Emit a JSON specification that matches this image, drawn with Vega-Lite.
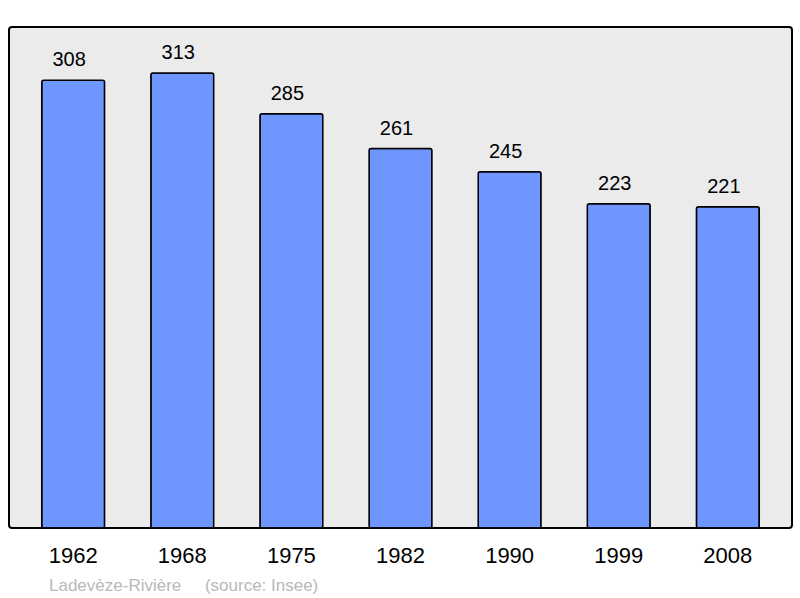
{
  "$schema": "https://vega.github.io/schema/vega-lite/v6.json",
  "autosize": "none",
  "padding": {"left": 9, "top": 27, "right": 8, "bottom": 70},
  "width": 783,
  "height": 501,
  "background": "white",
  "config": {
    "font": "Liberation Sans",
    "view": {"fill": "#ebebeb", "stroke": "black", "strokeWidth": 2, "cornerRadius": 3}
  },
  "title": {
    "text": "Ladevèze-Rivière\u00a0\u00a0\u00a0\u00a0\u00a0(source: Insee)",
    "orient": "bottom",
    "anchor": "start",
    "frame": "group",
    "dx": 40,
    "offset": 12,
    "fontSize": 17,
    "fontWeight": "normal",
    "color": "#b8b8b8",
    "font": "Liberation Sans"
  },
  "data": {
    "values": [
      {"year": "1962", "pop": 308},
      {"year": "1968", "pop": 313},
      {"year": "1975", "pop": 285},
      {"year": "1982", "pop": 261},
      {"year": "1990", "pop": 245},
      {"year": "1999", "pop": 223},
      {"year": "2008", "pop": 221}
    ]
  },
  "encoding": {
    "x": {
      "field": "year",
      "type": "nominal",
      "sort": null,
      "scale": {"paddingInner": 0.424, "paddingOuter": 0.3},
      "axis": {
        "title": null,
        "labelAngle": 0,
        "ticks": false,
        "domain": false,
        "labelPadding": 17,
        "labelFontSize": 22,
        "labelColor": "black",
        "labelFont": "Liberation Sans"
      }
    },
    "y": {
      "field": "pop",
      "type": "quantitative",
      "scale": {"domain": [0, 344.6], "nice": false},
      "axis": null
    }
  },
  "layer": [
    {
      "mark": {"type": "bar", "fill": "#6f96ff", "stroke": "black", "strokeWidth": 1.5, "cornerRadius": 2}
    },
    {
      "mark": {"type": "text", "dy": -14, "dx": -4, "baseline": "alphabetic", "fontSize": 20, "color": "black", "font": "Liberation Sans"},
      "encoding": {"text": {"field": "pop", "type": "quantitative"}}
    }
  ]
}
